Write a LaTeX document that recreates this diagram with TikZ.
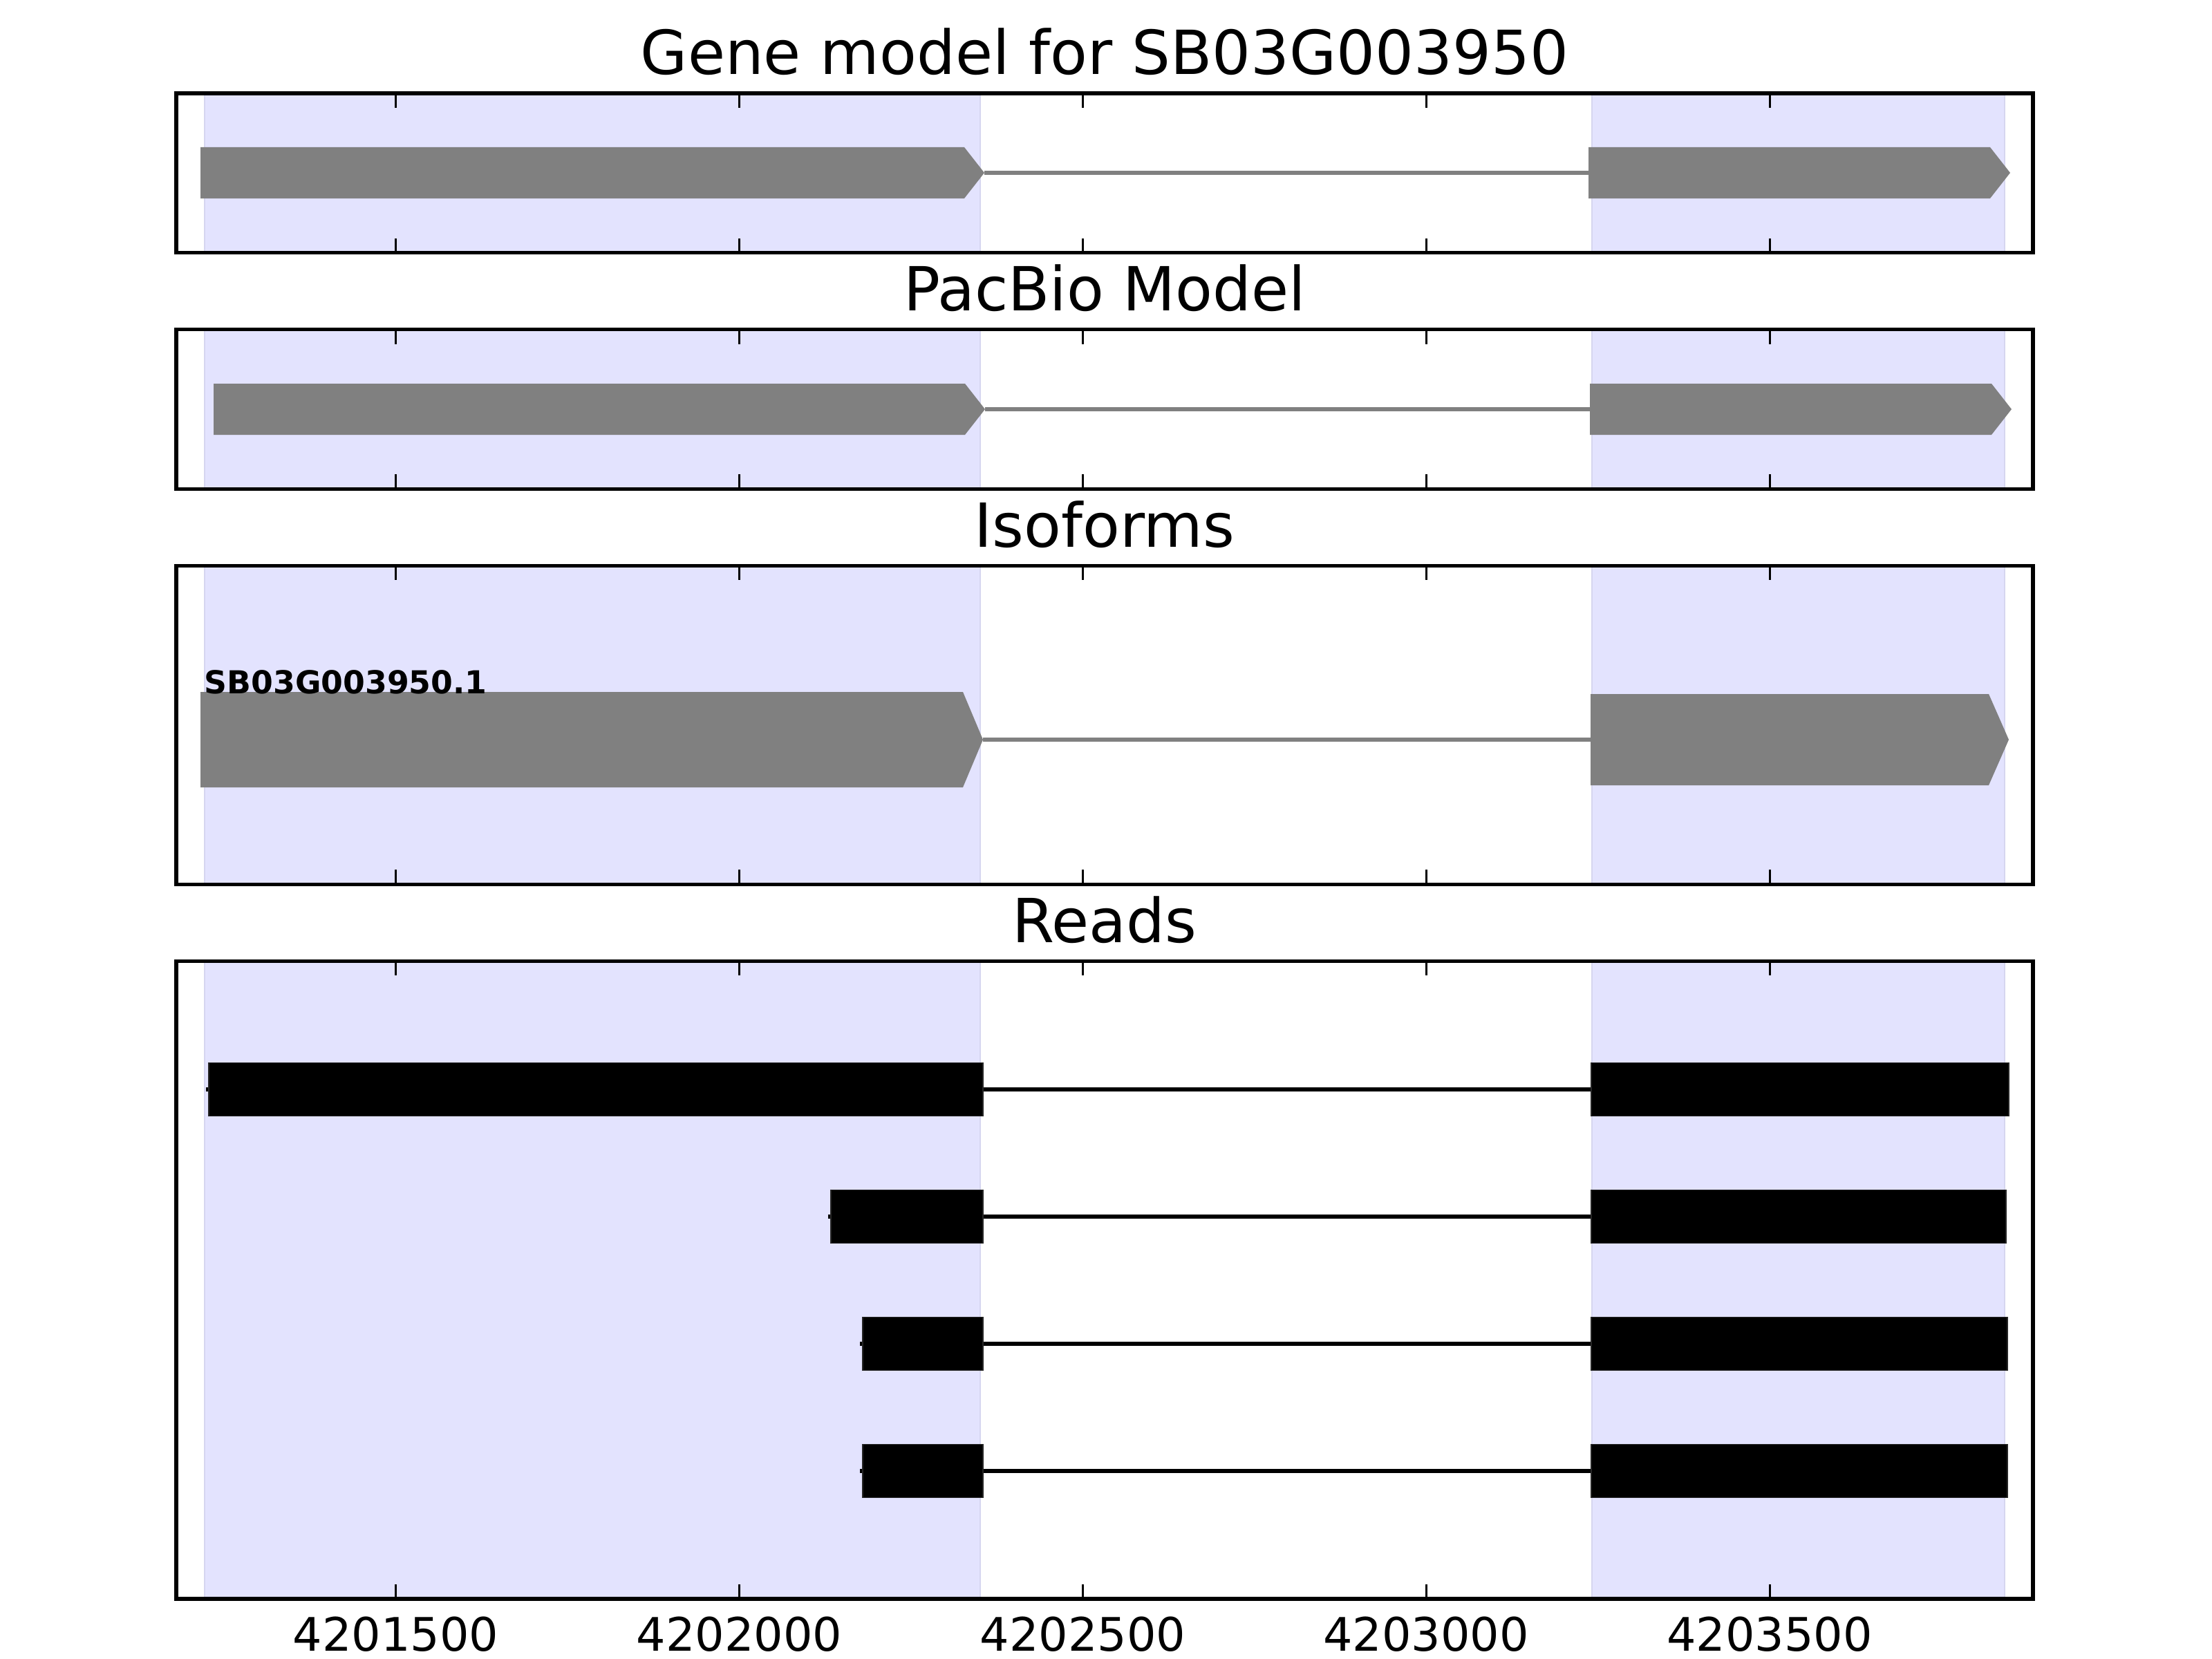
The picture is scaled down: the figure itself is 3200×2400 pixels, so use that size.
\documentclass[tikz,border=0pt]{standalone}
\usepackage{fontspec}
\setmainfont{DejaVu Sans}
\begin{document}
\begin{tikzpicture}[x=0.01cm,y=-0.01cm,
  frame/.style={draw=black,line width=1.45pt},
  shade/.style={fill={rgb,255:red,227;green,227;blue,254},draw={rgb,255:red,214;green,214;blue,240},line width=0.6pt},
  gexon/.style={fill={rgb,255:red,128;green,128;blue,128},draw=none},
  gintron/.style={draw={rgb,255:red,128;green,128;blue,128},line width=1.55pt},
  rexon/.style={fill=black,draw=black!85,line width=0.4pt},
  rintron/.style={draw=black,line width=1.55pt},
  tickmark/.style={draw=black,line width=0.85pt},
  ptitle/.style={font=\fontsize{25}{30}\selectfont,anchor=base,inner sep=0pt},
  ticklabel/.style={font=\fontsize{19}{23}\selectfont,anchor=base,inner sep=0pt},
  isolabel/.style={font=\bfseries\fontsize{13}{16}\selectfont,anchor=base west,inner sep=0pt}]
\useasboundingbox (0,0) rectangle (3200,2400);
\fill[white] (0,0) rectangle (3200,2400);

% panels: top/bottom
\def\pa{135}\def\pb{365.6}
\def\pc{476.6}\def\pd{707.2}
\def\pe{818.2}\def\pf{1279.4}
\def\pg{1390.4}\def\ph{2313}

% shaded exon regions
\foreach \t/\b in {\pa/\pb,\pc/\pd,\pe/\pf,\pg/\ph}{
  \path[shade] (296,\t) rectangle (1418,\b);
  \path[shade] (2303,\t) rectangle (2900,\b);
}

% gene arrow macro: x1, x2(tip), yc, h
\newcommand\garrowshape[4]{%
  \path[gexon] (#1,{#3-#4/2}) -- ({#2-29},{#3-#4/2}) -- (#2,#3) -- ({#2-29},{#3+#4/2}) -- (#1,{#3+#4/2}) -- cycle;}

% Panel 1: gene model
\coordinate (g1a) at (1424,250);
\coordinate (g1b) at (2298,250);
\draw[gintron] (g1a) -- (g1b);
\garrowshape{290}{1424}{250}{74}
\garrowshape{2298}{2908}{250}{74}

% Panel 2: PacBio model
\coordinate (p1a) at (1425,592);
\coordinate (p1b) at (2300,592);
\draw[gintron] (p1a) -- (p1b);
\garrowshape{309}{1425}{592}{74}
\garrowshape{2300}{2910}{592}{74}

% Panel 3: isoforms
\coordinate (i1a) at (1422,1070);
\coordinate (i1b) at (2301,1070);
\draw[gintron] (i1a) -- (i1b);
\garrowshape{290}{1422}{1070}{138}
\garrowshape{2301}{2906}{1070}{132}
\node[isolabel] (isoname) at (295,1003) {SB03G003950.1};

% Panel 4: reads
\foreach \n/\xl/\xr/\yc in {1/302/2906/1576,2/1202/2902/1760,3/1248/2904/1944,4/1248/2904/2128}{
  \coordinate (r\n s) at ({\xl-4},\yc);
  \coordinate (r\n e) at (2303,\yc);
  \draw[rintron] (r\n s) -- (r\n e);
  \path[rexon] (\xl,{\yc-38.5}) rectangle (1422,{\yc+38.5});
  \path[rexon] (2302,{\yc-38.5}) rectangle (\xr,{\yc+38.5});
}

% frames and ticks
\foreach \t/\b in {\pa/\pb,\pc/\pd,\pe/\pf,\pg/\ph}{
  \foreach \tx in {572.5,1069.4,1566.3,2063.2,2560.2}{
    \draw[tickmark] (\tx,\t) -- (\tx,{\t+21});
    \draw[tickmark] (\tx,\b) -- (\tx,{\b-21});
  }
  \draw[frame] (255,\t) rectangle (2941,\b);
}

% titles
\node[ptitle] (t1) at (1598,108) {Gene model for SB03G003950};
\node[ptitle] (t2) at (1598,449) {PacBio Model};
\node[ptitle] (t3) at (1598,791) {Isoforms};
\node[ptitle] (t4) at (1598,1363) {Reads};

% tick labels
\node[ticklabel] (l1) at (572.5,2388) {4201500};
\node[ticklabel] (l2) at (1069.4,2388) {4202000};
\node[ticklabel] (l3) at (1566.3,2388) {4202500};
\node[ticklabel] (l4) at (2063.2,2388) {4203000};
\node[ticklabel] (l5) at (2560.2,2388) {4203500};
\end{tikzpicture}
\end{document}
